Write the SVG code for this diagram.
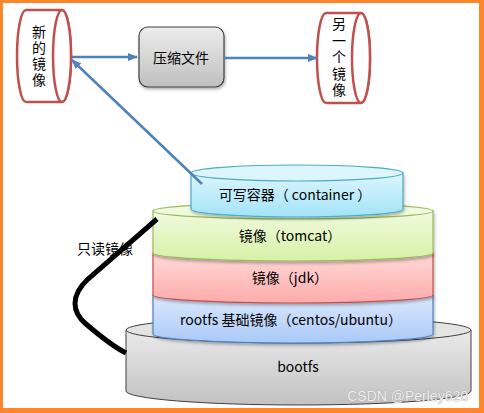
<svg xmlns="http://www.w3.org/2000/svg" width="484" height="413" viewBox="0 0 484 413">
<style>
text{font-family:"Noto Sans CJK SC","Liberation Sans",sans-serif;fill:#000;}
.lbl{font-size:14px;text-anchor:middle;dominant-baseline:central;}
.vt{font-size:14px;text-anchor:middle;writing-mode:vertical-rl;}
.cyl{fill:#fff;stroke:#C0504D;stroke-width:2.5;}
.conn{stroke:#4F81BD;stroke-width:2.5;fill:none;}
</style>
<defs>
<marker id="ah" markerWidth="10" markerHeight="8" refX="9" refY="4" orient="auto" markerUnits="userSpaceOnUse">
<path d="M0,0 L10,4 L0,8 Z" fill="#4F81BD"/>
</marker>
<linearGradient id="gBox" x1="0" y1="0" x2="0" y2="1"><stop offset="0" stop-color="#EDEDED"/><stop offset="1" stop-color="#BFBFBF"/></linearGradient>
<linearGradient id="gCont" x1="0" y1="0" x2="0" y2="1"><stop offset="0" stop-color="#DDF6FE"/><stop offset="1" stop-color="#A2E3F8"/></linearGradient>
<linearGradient id="gGreen" x1="0" y1="0" x2="0" y2="1"><stop offset="0" stop-color="#F1FADF"/><stop offset="1" stop-color="#D5F1A6"/></linearGradient>
<linearGradient id="gRed" x1="0" y1="0" x2="0" y2="1"><stop offset="0" stop-color="#FFD9D9"/><stop offset="1" stop-color="#FFABAB"/></linearGradient>
<linearGradient id="gBlue" x1="0" y1="0" x2="0" y2="1"><stop offset="0" stop-color="#DDE9FD"/><stop offset="1" stop-color="#A9C9F8"/></linearGradient>
<linearGradient id="gGray" x1="0" y1="0" x2="0" y2="1"><stop offset="0" stop-color="#EAEAEA"/><stop offset="1" stop-color="#C2C2C2"/></linearGradient>
<filter id="sh" x="-10%" y="-10%" width="130%" height="140%"><feDropShadow dx="1" dy="2" stdDeviation="1.5" flood-color="#000" flood-opacity="0.3"/></filter>
</defs>
<rect x="0" y="0" width="484" height="413" fill="#FF862B"/>
<rect x="3" y="3" width="476" height="405" fill="#fff"/>

<g id="bootfs">
<path d="M126,330 V391 A172.5,14 0 0 0 471,391 V330 Z" fill="url(#gGray)" stroke="#404040" stroke-width="1"/>
<ellipse cx="298.5" cy="330" rx="172.5" ry="13" fill="#E4E4E4" stroke="#404040" stroke-width="1"/>
<text class="lbl" x="298" y="366">bootfs</text>
</g>
<g id="rootfs">
<path d="M153,295 V334 A140,9 0 0 0 433,334 V295 Z" fill="url(#gBlue)" stroke="#4F81BD" stroke-width="1.2" filter="url(#sh)"/>
<text class="lbl" x="291" y="319">rootfs 基础镜像（centos/ubuntu）</text>
</g>
<g id="jdk">
<path d="M153,253 V295 A140,8 0 0 0 433,295 V253 Z" fill="url(#gRed)" stroke="#C0504D" stroke-width="1.2" filter="url(#sh)"/>
<text class="lbl" x="290" y="277">镜像（jdk）</text>
</g>
<g id="tomcat">
<path d="M153,211 V253 A140,8 0 0 0 433,253 V211 Z" fill="url(#gGreen)" stroke="#9BBB59" stroke-width="1.2" filter="url(#sh)"/>
<ellipse cx="293" cy="211" rx="140" ry="8" fill="#F0FADE" stroke="#9BBB59" stroke-width="1.2"/>
<text class="lbl" x="290" y="235">镜像（tomcat）</text>
</g>
<g id="container">
<path d="M191,173 V209 A106,8 0 0 0 403,209 V173 Z" fill="url(#gCont)" stroke="#4BACC6" stroke-width="1.2" filter="url(#sh)"/>
<ellipse cx="297" cy="173" rx="106" ry="8" fill="#DDF6FE" stroke="#4BACC6" stroke-width="1.2"/>
<text class="lbl" x="295" y="194">可写容器（ container ）</text>
</g>

<g id="new-image">
<path class="cyl" d="M26,10 H62 A9,46 0 0 1 62,102 H26 A9,46 0 0 1 26,10 Z"/>
<ellipse class="cyl" cx="62" cy="56" rx="9" ry="46"/>
<text class="vt" x="39" y="57" letter-spacing="2">新的镜像</text>
</g>
<g id="compress">
<rect x="139" y="27" width="85" height="60" rx="9" fill="url(#gBox)" stroke="#404040" stroke-width="1.2" filter="url(#sh)"/>
<text class="lbl" x="181" y="57">压缩文件</text>
</g>
<g id="other-image">
<path class="cyl" d="M326,13 H361 A9,45 0 0 1 361,103 H326 A9,45 0 0 1 326,13 Z"/>
<ellipse class="cyl" cx="361" cy="58" rx="9" ry="45"/>
<text class="vt" x="339" y="58" letter-spacing="2.5">另一个镜像</text>
</g>

<g id="readonly-label">
<text x="77" y="248" font-size="14" dominant-baseline="central">只读镜像</text>
</g>

<g id="connectors">
<line class="conn" x1="72" y1="57" x2="137" y2="57" marker-end="url(#ah)"/>
<line class="conn" x1="224" y1="58" x2="317" y2="58" marker-end="url(#ah)"/>
<line class="conn" x1="202" y1="184" x2="72" y2="60" marker-end="url(#ah)"/>
<path d="M157,219 L88,279 C70,296 72,312 86,324 C100,336 112,346 126,353" fill="none" stroke="#000" stroke-width="5"/>
</g>

<text x="468" y="396" font-size="14" text-anchor="end" dominant-baseline="central" style="font-family:'Liberation Sans',sans-serif;fill:#EEEEEE;stroke:#A8A8A8;stroke-width:0.7;paint-order:stroke">CSDN @Perley620</text>
</svg>
